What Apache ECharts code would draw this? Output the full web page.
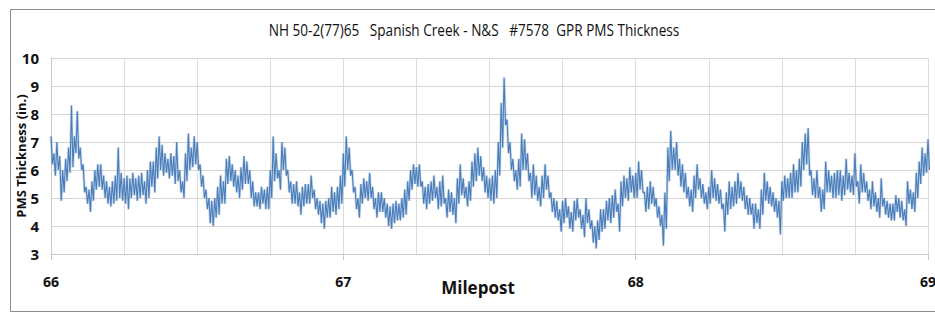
<!DOCTYPE html>
<html>
<head>
<meta charset="utf-8">
<script src="https://cdn.jsdelivr.net/npm/echarts@6/dist/echarts.min.js"></script>
<style>
  html, body { margin: 0; padding: 0; background: #fff; }
  #chart { width: 935px; height: 322px; }
</style>
</head>
<body>
<div id="chart"></div>
<script>
// GPR scan of PMS thickness, NH 50-2(77)65 Spanish Creek, milepost 66 to 69.
// Each 0.01-mile bin holds the upper and lower edge of the scan trace.
const titleText = 'NH 50-2(77)65   Spanish Creek - N&S   #7578  GPR PMS Thickness';
const startMile = 66;
const binMiles = 0.01;

const upper = [
  7.2, 6.6, 7.0, 6.5, 6.0, 6.4, 6.8, 8.3, 7.2, 8.1, 6.8,
  6.2, 5.4, 5.3, 5.6, 6.0, 6.2, 6.2, 5.8, 5.6, 5.4,
  5.6, 5.8, 6.8, 5.9, 5.7, 5.8, 5.7, 5.9, 5.7, 5.8,
  5.9, 5.6, 6.0, 6.3, 6.3, 6.8, 7.2, 6.9, 6.6, 6.4,
  6.6, 6.5, 7.0, 6.0, 5.6, 6.6, 7.3, 6.8, 7.2, 7.0,
  6.2, 5.8, 5.3, 5.0, 4.9, 5.0, 5.4, 5.8, 5.6, 6.4,
  6.5, 6.2, 6.0, 5.8, 6.1, 6.5, 6.3, 6.0, 5.6, 5.2,
  5.2, 5.4, 5.3, 5.4, 6.0, 7.2, 6.6, 6.0, 7.0, 6.8,
  6.0, 5.6, 5.5, 5.6, 5.2, 5.4, 5.5, 5.5, 5.8, 5.3,
  5.0, 4.9, 4.8, 4.9, 5.0, 5.4, 5.2, 5.4, 5.8, 6.6,
  7.2, 6.8, 6.0, 5.4, 5.0, 5.5, 5.7, 5.6, 5.9, 5.4,
  5.0, 5.2, 5.2, 5.0, 4.8, 4.7, 4.8, 4.9, 4.8, 5.0,
  5.3, 5.6, 6.0, 6.2, 6.1, 6.2, 5.6, 5.4, 5.5, 5.6,
  5.8, 5.4, 5.6, 5.8, 5.0, 5.3, 5.2, 5.0, 5.7, 6.2,
  5.7, 5.4, 5.6, 6.3, 6.6, 6.8, 6.5, 6.1, 5.8, 5.7,
  5.8, 6.0, 7.0, 8.4, 9.3, 7.8, 7.0, 6.4, 6.0, 6.4,
  7.3, 7.1, 6.6, 5.9, 6.2, 5.8, 5.4, 5.8, 6.2, 5.8,
  5.2, 5.0, 4.9, 4.6, 4.9, 5.0, 4.7, 4.5, 4.9, 5.0,
  4.6, 4.4, 5.0, 4.6, 4.2, 4.0, 4.2, 4.6, 4.6, 4.9,
  5.0, 5.1, 5.3, 4.8, 5.6, 5.8, 5.7, 6.1, 5.8, 5.9,
  6.3, 6.0, 5.2, 5.4, 5.6, 5.4, 5.0, 4.7, 4.4, 5.2,
  6.8, 7.4, 6.8, 7.0, 6.4, 6.2, 5.9, 5.4, 5.3, 5.8,
  6.2, 5.7, 5.5, 5.2, 5.4, 6.0, 5.7, 5.5, 5.3, 4.8,
  5.2, 5.6, 5.4, 5.6, 5.9, 5.6, 5.4, 5.1, 5.0, 4.8,
  4.8, 4.6, 5.3, 5.9, 5.6, 5.4, 5.2, 5.0, 4.9, 5.6,
  5.8, 5.7, 5.9, 6.2, 6.0, 6.4, 7.0, 7.3, 7.5, 6.0,
  5.7, 6.0, 5.4, 5.3, 6.3, 6.0, 5.8, 5.9, 6.0, 6.0,
  5.8, 6.4, 5.9, 5.8, 6.6, 5.6, 6.2, 5.9, 5.6, 5.3,
  5.6, 5.2, 5.0, 5.7, 5.0, 4.9, 4.8, 4.8, 5.1, 5.0,
  4.9, 4.6, 5.6, 5.3, 5.2, 5.9, 6.3, 6.8, 6.6, 7.1
];

const lower = [
  6.2, 5.8, 6.0, 4.9, 5.2, 5.6, 5.9, 6.1, 6.6, 6.4, 6.0,
  5.2, 4.8, 4.5, 4.9, 5.3, 5.4, 5.3, 5.0, 4.8, 4.7,
  4.8, 4.9, 5.0, 4.9, 4.8, 4.6, 5.0, 5.1, 4.9, 5.0,
  5.1, 4.8, 5.0, 5.4, 5.2, 5.7, 6.0, 5.8, 5.9, 5.7,
  5.8, 5.5, 5.6, 5.2, 5.0, 5.6, 6.0, 6.1, 6.2, 6.0,
  5.4, 5.0, 4.6, 4.1, 4.0, 4.3, 4.4, 4.8, 4.8, 5.5,
  5.6, 5.4, 5.2, 5.0, 5.3, 5.5, 5.5, 5.0, 4.7, 4.7,
  4.6, 4.8, 4.6, 4.6, 5.0, 5.6, 5.7, 5.3, 6.0, 5.8,
  5.2, 4.8, 4.8, 4.7, 4.4, 4.7, 4.8, 4.8, 5.0, 4.6,
  4.4, 4.1, 3.9, 4.3, 4.3, 4.5, 4.4, 4.6, 4.8, 5.4,
  6.0, 5.8, 5.2, 4.6, 4.3, 4.8, 5.0, 4.9, 5.0, 4.6,
  4.3, 4.5, 4.5, 4.3, 4.0, 3.9, 4.1, 4.2, 4.2, 4.3,
  4.4, 4.9, 5.3, 5.5, 5.4, 5.4, 4.8, 4.6, 4.8, 4.9,
  5.0, 4.6, 4.7, 4.8, 4.3, 4.5, 4.4, 4.1, 4.8, 5.1,
  5.0, 4.7, 4.9, 5.4, 5.6, 5.8, 5.6, 5.2, 5.0, 4.9,
  4.8, 5.0, 5.8, 6.8, 7.6, 6.6, 6.0, 5.6, 5.3, 5.4,
  6.0, 6.0, 5.6, 5.0, 5.1, 4.9, 4.7, 5.0, 5.3, 5.0,
  4.5, 4.3, 4.2, 3.8, 4.1, 4.3, 3.9, 3.8, 4.2, 4.3,
  3.9, 3.6, 4.1, 3.9, 3.4, 3.2, 3.5, 3.8, 3.9, 4.2,
  4.1, 4.3, 4.5, 3.8, 4.7, 5.0, 4.9, 5.2, 5.0, 5.0,
  5.3, 5.2, 4.5, 4.6, 4.8, 4.7, 4.3, 4.0, 3.3, 3.9,
  5.6, 6.0, 6.0, 5.8, 5.4, 5.2, 5.0, 4.7, 4.5, 5.0,
  5.3, 5.0, 4.8, 4.6, 4.8, 5.0, 4.9, 4.8, 4.6, 3.8,
  4.4, 4.6, 4.7, 4.8, 5.0, 4.9, 4.6, 4.4, 4.4, 3.9,
  4.1, 3.9, 4.4, 4.9, 4.8, 4.7, 4.5, 4.3, 3.7, 4.9,
  5.0, 5.0, 5.0, 5.2, 5.2, 5.4, 6.0, 6.2, 5.8, 5.1,
  5.0, 5.0, 4.5, 4.6, 5.2, 5.2, 5.0, 5.0, 5.1, 4.9,
  5.1, 5.3, 5.2, 5.1, 5.4, 4.8, 5.2, 5.2, 4.9, 4.6,
  4.7, 4.5, 4.3, 4.7, 4.4, 4.3, 4.2, 4.2, 4.5, 4.3,
  4.2, 4.0, 4.8, 4.6, 4.5, 5.0, 5.5, 5.8, 5.9, 6.0
];

// Trace: upper edge at the start of each bin, lower edge at its middle.
const trace = [];
for (let i = 0; i < upper.length; i++) {
  const m = startMile + i * binMiles;
  trace.push([+m.toFixed(4), upper[i]]);
  trace.push([+(m + binMiles / 2).toFixed(4), lower[i]]);
}

const FONT = '"Open Sans", "Liberation Sans", sans-serif';
const BLUE = '#4a7ebb';
const chart = echarts.init(document.getElementById('chart'), null, { renderer: 'svg' });

chart.setOption({
  animation: false,
  backgroundColor: '#ffffff',
  grid: { left: 51, right: 7, top: 58, bottom: 68, containLabel: false, outerBoundsMode: 'none' },
  xAxis: [
    {
      type: 'value',
      min: 66, max: 69, interval: 0.25,
      axisLine: { show: true, lineStyle: { color: '#c8c8c8', width: 1 } },
      axisTick: { show: false },
      splitLine: { show: true, lineStyle: { color: '#dcdcdc', width: 1 } },
      axisLabel: {
        margin: 20,
        fontFamily: FONT, fontSize: 14, fontWeight: 'bold', color: '#111',
        formatter: v => (Math.abs(v - Math.round(v)) < 1e-9 ? String(Math.round(v)) : '')
      }
    },
    {
      type: 'value',
      position: 'bottom',
      min: 66, max: 69, interval: 1,
      axisLine: { show: false },
      axisTick: { show: true, length: 6, lineStyle: { color: '#c8c8c8' } },
      axisLabel: { show: false },
      splitLine: { show: false }
    }
  ],
  yAxis: {
    type: 'value',
    min: 3, max: 10, interval: 1,
    name: 'PMS Thickness (in.)',
    nameLocation: 'middle',
    nameGap: 24,
    nameMoveOverlap: false,
    nameTextStyle: { fontFamily: FONT, fontSize: 13, fontWeight: 'bold', color: '#111' },
    axisLine: { show: true, lineStyle: { color: '#c8c8c8' } },
    axisTick: { show: false },
    splitLine: { show: true, lineStyle: { color: '#d4d4d4', width: 1 } },
    axisLabel: { margin: 12, fontFamily: FONT, fontSize: 15, fontWeight: 'bold', color: '#111' }
  },
  graphic: [
    {
      type: 'rect',
      shape: { x: 10.5, y: 9.5, width: 940, height: 302 },
      style: { fill: 'none', stroke: '#8c8c8c', lineWidth: 1 },
      silent: true
    },
    {
      type: 'text',
      x: 474, y: 30,
      scaleX: 0.85,
      style: {
        text: titleText, fontFamily: FONT, fontSize: 16, fill: '#111',
        align: 'center', verticalAlign: 'middle'
      }
    },
    {
      type: 'text',
      x: 478, y: 287,
      style: {
        text: 'Milepost', fontFamily: FONT, fontSize: 17, fontWeight: 'bold', fill: '#111',
        align: 'center', verticalAlign: 'middle'
      }
    }
  ],
  series: [
    {
      // soft outer fringe of the trace
      type: 'line',
      xAxisIndex: 0,
      data: trace,
      symbol: 'none',
      clip: true,
      silent: true,
      lineStyle: { color: BLUE, width: 2.6, opacity: 0.3 }
    },
    {
      type: 'line',
      xAxisIndex: 0,
      data: trace,
      symbol: 'none',
      clip: true,
      lineStyle: { color: BLUE, width: 1.1 }
    }
  ]
});
</script>
</body>
</html>
